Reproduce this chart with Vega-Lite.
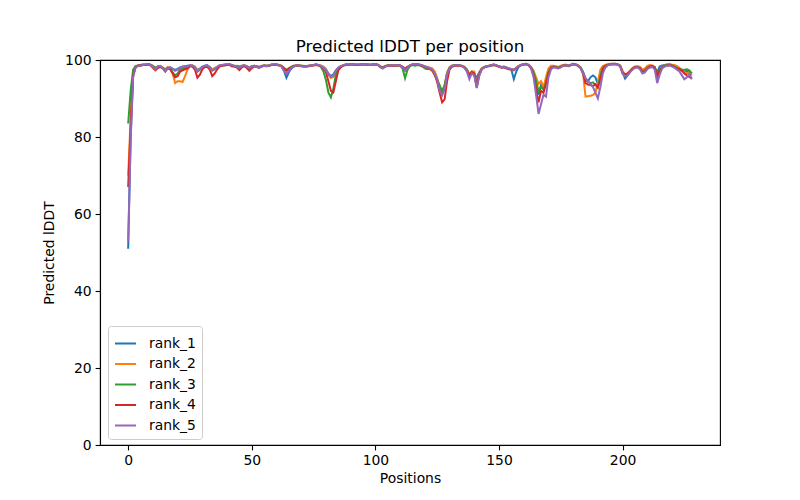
{
"$schema": "https://vega.github.io/schema/vega-lite/v6.json",
"width": 620, "height": 385,
"autosize": {"type": "none"},
"padding": {"left": 100, "top": 60, "right": 80, "bottom": 55},
"background": "white",
"title": {"text": "Predicted lDDT per position", "fontSize": 16.7, "font": "DejaVu Sans", "fontWeight": "normal", "color": "black", "offset": -3, "anchor": "middle"},
"config": {
  "view": {"stroke": "black", "strokeWidth": 1.1},
  "axis": {"grid": false, "domainColor": "black", "domainWidth": 1.1, "tickColor": "black", "tickWidth": 1.1, "tickSize": 4.9, "labelFont": "DejaVu Sans", "labelFontSize": 13.9, "labelColor": "black", "labelPadding": 4, "titleFont": "DejaVu Sans", "titleFontSize": 13.9, "titleFontWeight": "normal", "titleColor": "black"},
  "legend": {"labelFont": "DejaVu Sans", "labelFontSize": 13.9, "labelColor": "black"}
},
"data": {"values": [
{"pos":0,"rank_1":51,"rank_2":70,"rank_3":83.5,"rank_4":67,"rank_5":53},
{"pos":1,"rank_1":80,"rank_2":85,"rank_3":92,"rank_4":83,"rank_5":79},
{"pos":2,"rank_1":96,"rank_2":96.5,"rank_3":97.5,"rank_4":96,"rank_5":95.5},
{"pos":3,"rank_1":98.2,"rank_2":98.3,"rank_3":98.4,"rank_4":98.2,"rank_5":98.1},
{"pos":4,"rank_1":98.5,"rank_2":98.6,"rank_3":98.6,"rank_4":98.5,"rank_5":98.4},
{"pos":5,"rank_1":98.6,"rank_2":98.7,"rank_3":98.7,"rank_4":98.6,"rank_5":98.6},
{"pos":6,"rank_1":98.7,"rank_2":98.8,"rank_3":98.8,"rank_4":98.7,"rank_5":98.7},
{"pos":7,"rank_1":98.8,"rank_2":98.8,"rank_3":98.8,"rank_4":98.7,"rank_5":98.8},
{"pos":8,"rank_1":98.9,"rank_2":98.9,"rank_3":98.9,"rank_4":98.8,"rank_5":98.9},
{"pos":9,"rank_1":98.8,"rank_2":98.8,"rank_3":98.8,"rank_4":98.6,"rank_5":98.7},
{"pos":10,"rank_1":98.4,"rank_2":98.5,"rank_3":98.4,"rank_4":98.0,"rank_5":98.2},
{"pos":11,"rank_1":97.8,"rank_2":98.0,"rank_3":97.9,"rank_4":97.3,"rank_5":97.6},
{"pos":12,"rank_1":98.2,"rank_2":98.4,"rank_3":98.3,"rank_4":97.9,"rank_5":98.3},
{"pos":13,"rank_1":98.4,"rank_2":98.4,"rank_3":98.3,"rank_4":98.2,"rank_5":98.5},
{"pos":14,"rank_1":98.0,"rank_2":98.1,"rank_3":97.9,"rank_4":97.8,"rank_5":97.8},
{"pos":15,"rank_1":97.5,"rank_2":97.6,"rank_3":97.4,"rank_4":97.0,"rank_5":97.2},
{"pos":16,"rank_1":98.0,"rank_2":98.2,"rank_3":97.9,"rank_4":97.8,"rank_5":97.8},
{"pos":17,"rank_1":98.1,"rank_2":97.8,"rank_3":97.8,"rank_4":97.6,"rank_5":98.1},
{"pos":18,"rank_1":97.7,"rank_2":96.5,"rank_3":96.8,"rank_4":96.5,"rank_5":97.7},
{"pos":19,"rank_1":97.4,"rank_2":94.0,"rank_3":96.0,"rank_4":95.5,"rank_5":97.2},
{"pos":20,"rank_1":97.7,"rank_2":94.5,"rank_3":96.5,"rank_4":95.8,"rank_5":97.5},
{"pos":21,"rank_1":98.1,"rank_2":94.5,"rank_3":97.5,"rank_4":97.0,"rank_5":98.0},
{"pos":22,"rank_1":98.3,"rank_2":94.3,"rank_3":97.8,"rank_4":97.3,"rank_5":98.2},
{"pos":23,"rank_1":98.4,"rank_2":95.8,"rank_3":98.0,"rank_4":97.6,"rank_5":98.3},
{"pos":24,"rank_1":98.5,"rank_2":97.5,"rank_3":98.2,"rank_4":97.8,"rank_5":98.4},
{"pos":25,"rank_1":98.6,"rank_2":98.5,"rank_3":98.5,"rank_4":98.4,"rank_5":98.6},
{"pos":26,"rank_1":98.5,"rank_2":98.6,"rank_3":98.5,"rank_4":98.3,"rank_5":98.5},
{"pos":27,"rank_1":98.1,"rank_2":98.3,"rank_3":98.0,"rank_4":97.5,"rank_5":98.0},
{"pos":28,"rank_1":97.3,"rank_2":97.5,"rank_3":97.0,"rank_4":95.4,"rank_5":97.0},
{"pos":29,"rank_1":97.8,"rank_2":97.6,"rank_3":97.5,"rank_4":96.2,"rank_5":97.5},
{"pos":30,"rank_1":98.3,"rank_2":98.1,"rank_3":98.1,"rank_4":97.6,"rank_5":98.2},
{"pos":31,"rank_1":98.5,"rank_2":98.4,"rank_3":98.4,"rank_4":98.2,"rank_5":98.5},
{"pos":32,"rank_1":98.6,"rank_2":98.5,"rank_3":98.5,"rank_4":98.2,"rank_5":98.6},
{"pos":33,"rank_1":98.2,"rank_2":98.1,"rank_3":98.0,"rank_4":97.5,"rank_5":98.0},
{"pos":34,"rank_1":97.5,"rank_2":97.6,"rank_3":97.3,"rank_4":95.8,"rank_5":97.2},
{"pos":35,"rank_1":97.8,"rank_2":97.9,"rank_3":97.6,"rank_4":96.5,"rank_5":97.6},
{"pos":36,"rank_1":98.2,"rank_2":98.2,"rank_3":98.1,"rank_4":97.6,"rank_5":98.2},
{"pos":37,"rank_1":98.6,"rank_2":98.6,"rank_3":98.5,"rank_4":98.3,"rank_5":98.6},
{"pos":38,"rank_1":98.7,"rank_2":98.7,"rank_3":98.6,"rank_4":98.5,"rank_5":98.7},
{"pos":39,"rank_1":98.8,"rank_2":98.7,"rank_3":98.7,"rank_4":98.6,"rank_5":98.8},
{"pos":40,"rank_1":98.8,"rank_2":98.8,"rank_3":98.7,"rank_4":98.7,"rank_5":98.9},
{"pos":41,"rank_1":98.9,"rank_2":98.8,"rank_3":98.8,"rank_4":98.7,"rank_5":98.9},
{"pos":42,"rank_1":98.7,"rank_2":98.6,"rank_3":98.6,"rank_4":98.3,"rank_5":98.6},
{"pos":43,"rank_1":98.4,"rank_2":98.5,"rank_3":98.4,"rank_4":98.3,"rank_5":98.5},
{"pos":44,"rank_1":98.5,"rank_2":98.4,"rank_3":98.3,"rank_4":98.0,"rank_5":98.2},
{"pos":45,"rank_1":98.3,"rank_2":98.2,"rank_3":98.1,"rank_4":97.4,"rank_5":97.9},
{"pos":46,"rank_1":98.5,"rank_2":98.5,"rank_3":98.4,"rank_4":98.1,"rank_5":98.4},
{"pos":47,"rank_1":98.6,"rank_2":98.6,"rank_3":98.5,"rank_4":98.4,"rank_5":98.6},
{"pos":48,"rank_1":98.4,"rank_2":98.3,"rank_3":98.2,"rank_4":97.9,"rank_5":98.3},
{"pos":49,"rank_1":98.1,"rank_2":98.0,"rank_3":97.9,"rank_4":97.2,"rank_5":97.9},
{"pos":50,"rank_1":98.4,"rank_2":98.3,"rank_3":98.3,"rank_4":97.9,"rank_5":98.3},
{"pos":51,"rank_1":98.5,"rank_2":98.5,"rank_3":98.5,"rank_4":98.3,"rank_5":98.4},
{"pos":52,"rank_1":98.4,"rank_2":98.4,"rank_3":98.3,"rank_4":98.2,"rank_5":98.2},
{"pos":53,"rank_1":98.2,"rank_2":98.2,"rank_3":98.1,"rank_4":98.0,"rank_5":98.0},
{"pos":54,"rank_1":98.4,"rank_2":98.5,"rank_3":98.4,"rank_4":98.3,"rank_5":98.3},
{"pos":55,"rank_1":98.6,"rank_2":98.6,"rank_3":98.5,"rank_4":98.5,"rank_5":98.5},
{"pos":56,"rank_1":98.5,"rank_2":98.5,"rank_3":98.5,"rank_4":98.4,"rank_5":98.4},
{"pos":57,"rank_1":98.6,"rank_2":98.6,"rank_3":98.6,"rank_4":98.5,"rank_5":98.6},
{"pos":58,"rank_1":98.8,"rank_2":98.8,"rank_3":98.7,"rank_4":98.7,"rank_5":98.8},
{"pos":59,"rank_1":98.8,"rank_2":98.8,"rank_3":98.8,"rank_4":98.7,"rank_5":98.8},
{"pos":60,"rank_1":98.8,"rank_2":98.8,"rank_3":98.8,"rank_4":98.7,"rank_5":98.8},
{"pos":61,"rank_1":98.7,"rank_2":98.7,"rank_3":98.7,"rank_4":98.6,"rank_5":98.6},
{"pos":62,"rank_1":98.4,"rank_2":98.5,"rank_3":98.5,"rank_4":98.4,"rank_5":98.3},
{"pos":63,"rank_1":97.3,"rank_2":98.0,"rank_3":97.9,"rank_4":97.8,"rank_5":97.2},
{"pos":64,"rank_1":95.4,"rank_2":97.4,"rank_3":97.4,"rank_4":97.2,"rank_5":96.4},
{"pos":65,"rank_1":96.8,"rank_2":97.8,"rank_3":97.8,"rank_4":97.7,"rank_5":97.2},
{"pos":66,"rank_1":97.8,"rank_2":98.2,"rank_3":98.2,"rank_4":98.1,"rank_5":97.9},
{"pos":67,"rank_1":98.3,"rank_2":98.5,"rank_3":98.5,"rank_4":98.4,"rank_5":98.3},
{"pos":68,"rank_1":98.6,"rank_2":98.6,"rank_3":98.6,"rank_4":98.5,"rank_5":98.6},
{"pos":69,"rank_1":98.6,"rank_2":98.6,"rank_3":98.6,"rank_4":98.5,"rank_5":98.6},
{"pos":70,"rank_1":98.5,"rank_2":98.5,"rank_3":98.5,"rank_4":98.4,"rank_5":98.4},
{"pos":71,"rank_1":98.4,"rank_2":98.5,"rank_3":98.4,"rank_4":98.3,"rank_5":98.3},
{"pos":72,"rank_1":98.4,"rank_2":98.4,"rank_3":98.4,"rank_4":98.3,"rank_5":98.3},
{"pos":73,"rank_1":98.5,"rank_2":98.5,"rank_3":98.5,"rank_4":98.4,"rank_5":98.4},
{"pos":74,"rank_1":98.6,"rank_2":98.6,"rank_3":98.6,"rank_4":98.5,"rank_5":98.6},
{"pos":75,"rank_1":98.7,"rank_2":98.7,"rank_3":98.7,"rank_4":98.6,"rank_5":98.7},
{"pos":76,"rank_1":98.8,"rank_2":98.8,"rank_3":98.8,"rank_4":98.7,"rank_5":98.8},
{"pos":77,"rank_1":98.7,"rank_2":98.7,"rank_3":98.6,"rank_4":98.6,"rank_5":98.7},
{"pos":78,"rank_1":98.5,"rank_2":98.5,"rank_3":98.2,"rank_4":98.3,"rank_5":98.4},
{"pos":79,"rank_1":98.2,"rank_2":98.2,"rank_3":97.0,"rank_4":97.8,"rank_5":98.0},
{"pos":80,"rank_1":97.6,"rank_2":97.5,"rank_3":94.8,"rank_4":96.8,"rank_5":97.3},
{"pos":81,"rank_1":96.5,"rank_2":96.2,"rank_3":91.5,"rank_4":94.5,"rank_5":96.3},
{"pos":82,"rank_1":95.8,"rank_2":95.3,"rank_3":90.3,"rank_4":92.0,"rank_5":95.6},
{"pos":83,"rank_1":96.3,"rank_2":95.6,"rank_3":92.5,"rank_4":91.6,"rank_5":96.0},
{"pos":84,"rank_1":97.3,"rank_2":96.8,"rank_3":96.2,"rank_4":94.5,"rank_5":97.2},
{"pos":85,"rank_1":98.0,"rank_2":97.9,"rank_3":97.8,"rank_4":97.3,"rank_5":98.0},
{"pos":86,"rank_1":98.4,"rank_2":98.4,"rank_3":98.3,"rank_4":98.1,"rank_5":98.4},
{"pos":87,"rank_1":98.6,"rank_2":98.6,"rank_3":98.6,"rank_4":98.5,"rank_5":98.6},
{"pos":88,"rank_1":98.8,"rank_2":98.8,"rank_3":98.8,"rank_4":98.7,"rank_5":98.8},
{"pos":89,"rank_1":98.8,"rank_2":98.8,"rank_3":98.8,"rank_4":98.7,"rank_5":98.8},
{"pos":90,"rank_1":98.9,"rank_2":98.9,"rank_3":98.8,"rank_4":98.8,"rank_5":98.9},
{"pos":91,"rank_1":98.9,"rank_2":98.9,"rank_3":98.9,"rank_4":98.8,"rank_5":98.9},
{"pos":92,"rank_1":98.8,"rank_2":98.8,"rank_3":98.8,"rank_4":98.7,"rank_5":98.8},
{"pos":93,"rank_1":98.8,"rank_2":98.8,"rank_3":98.7,"rank_4":98.7,"rank_5":98.8},
{"pos":94,"rank_1":98.9,"rank_2":98.9,"rank_3":98.8,"rank_4":98.8,"rank_5":98.9},
{"pos":95,"rank_1":98.9,"rank_2":98.9,"rank_3":98.9,"rank_4":98.8,"rank_5":98.9},
{"pos":96,"rank_1":98.9,"rank_2":98.9,"rank_3":98.8,"rank_4":98.8,"rank_5":98.9},
{"pos":97,"rank_1":98.8,"rank_2":98.8,"rank_3":98.8,"rank_4":98.7,"rank_5":98.8},
{"pos":98,"rank_1":98.8,"rank_2":98.8,"rank_3":98.7,"rank_4":98.7,"rank_5":98.7},
{"pos":99,"rank_1":98.9,"rank_2":98.9,"rank_3":98.8,"rank_4":98.8,"rank_5":98.9},
{"pos":100,"rank_1":98.9,"rank_2":98.9,"rank_3":98.9,"rank_4":98.8,"rank_5":98.9},
{"pos":101,"rank_1":98.8,"rank_2":98.8,"rank_3":98.7,"rank_4":98.7,"rank_5":98.7},
{"pos":102,"rank_1":98.3,"rank_2":98.4,"rank_3":98.3,"rank_4":98.2,"rank_5":98.1},
{"pos":103,"rank_1":98.0,"rank_2":98.1,"rank_3":98.0,"rank_4":97.9,"rank_5":97.8},
{"pos":104,"rank_1":98.4,"rank_2":98.5,"rank_3":98.4,"rank_4":98.3,"rank_5":98.3},
{"pos":105,"rank_1":98.6,"rank_2":98.6,"rank_3":98.6,"rank_4":98.5,"rank_5":98.5},
{"pos":106,"rank_1":98.7,"rank_2":98.7,"rank_3":98.7,"rank_4":98.6,"rank_5":98.7},
{"pos":107,"rank_1":98.6,"rank_2":98.6,"rank_3":98.6,"rank_4":98.5,"rank_5":98.6},
{"pos":108,"rank_1":98.6,"rank_2":98.6,"rank_3":98.5,"rank_4":98.5,"rank_5":98.6},
{"pos":109,"rank_1":98.7,"rank_2":98.7,"rank_3":98.7,"rank_4":98.6,"rank_5":98.7},
{"pos":110,"rank_1":98.6,"rank_2":98.6,"rank_3":98.5,"rank_4":98.6,"rank_5":98.6},
{"pos":111,"rank_1":98.2,"rank_2":98.3,"rank_3":97.8,"rank_4":98.2,"rank_5":98.1},
{"pos":112,"rank_1":97.2,"rank_2":97.8,"rank_3":95.3,"rank_4":97.7,"rank_5":97.3},
{"pos":113,"rank_1":98.0,"rank_2":98.2,"rank_3":97.5,"rank_4":98.2,"rank_5":98.0},
{"pos":114,"rank_1":98.6,"rank_2":98.6,"rank_3":98.4,"rank_4":98.6,"rank_5":98.6},
{"pos":115,"rank_1":98.8,"rank_2":98.8,"rank_3":98.7,"rank_4":98.8,"rank_5":98.8},
{"pos":116,"rank_1":98.8,"rank_2":98.8,"rank_3":98.5,"rank_4":98.8,"rank_5":98.8},
{"pos":117,"rank_1":98.9,"rank_2":98.9,"rank_3":98.7,"rank_4":98.8,"rank_5":98.9},
{"pos":118,"rank_1":98.8,"rank_2":98.8,"rank_3":98.6,"rank_4":98.7,"rank_5":98.8},
{"pos":119,"rank_1":98.6,"rank_2":98.6,"rank_3":98.3,"rank_4":98.5,"rank_5":98.6},
{"pos":120,"rank_1":98.3,"rank_2":98.4,"rank_3":97.8,"rank_4":98.2,"rank_5":98.3},
{"pos":121,"rank_1":98.1,"rank_2":98.2,"rank_3":97.6,"rank_4":98.0,"rank_5":98.1},
{"pos":122,"rank_1":97.9,"rank_2":98.0,"rank_3":97.7,"rank_4":97.7,"rank_5":97.9},
{"pos":123,"rank_1":97.6,"rank_2":97.8,"rank_3":97.3,"rank_4":97.2,"rank_5":97.5},
{"pos":124,"rank_1":96.8,"rank_2":97.0,"rank_3":96.0,"rank_4":96.3,"rank_5":96.5},
{"pos":125,"rank_1":95.0,"rank_2":95.3,"rank_3":94.8,"rank_4":94.2,"rank_5":94.8},
{"pos":126,"rank_1":92.5,"rank_2":92.8,"rank_3":93.5,"rank_4":91.5,"rank_5":92.0},
{"pos":127,"rank_1":91.5,"rank_2":91.8,"rank_3":91.8,"rank_4":89.0,"rank_5":90.8},
{"pos":128,"rank_1":93.0,"rank_2":93.5,"rank_3":93.5,"rank_4":89.8,"rank_5":92.3},
{"pos":129,"rank_1":96.5,"rank_2":96.8,"rank_3":96.5,"rank_4":94.5,"rank_5":96.2},
{"pos":130,"rank_1":98.0,"rank_2":98.1,"rank_3":98.0,"rank_4":97.5,"rank_5":97.9},
{"pos":131,"rank_1":98.5,"rank_2":98.5,"rank_3":98.5,"rank_4":98.2,"rank_5":98.4},
{"pos":132,"rank_1":98.6,"rank_2":98.7,"rank_3":98.6,"rank_4":98.5,"rank_5":98.6},
{"pos":133,"rank_1":98.7,"rank_2":98.7,"rank_3":98.7,"rank_4":98.6,"rank_5":98.7},
{"pos":134,"rank_1":98.6,"rank_2":98.6,"rank_3":98.6,"rank_4":98.5,"rank_5":98.6},
{"pos":135,"rank_1":98.5,"rank_2":98.5,"rank_3":98.4,"rank_4":98.4,"rank_5":98.4},
{"pos":136,"rank_1":98.2,"rank_2":98.2,"rank_3":98.1,"rank_4":98.0,"rank_5":98.0},
{"pos":137,"rank_1":97.6,"rank_2":97.6,"rank_3":97.4,"rank_4":97.2,"rank_5":97.0},
{"pos":138,"rank_1":96.3,"rank_2":96.2,"rank_3":96.0,"rank_4":96.0,"rank_5":95.0},
{"pos":139,"rank_1":97.0,"rank_2":97.0,"rank_3":96.8,"rank_4":96.8,"rank_5":96.5},
{"pos":140,"rank_1":96.5,"rank_2":97.0,"rank_3":96.2,"rank_4":96.5,"rank_5":96.0},
{"pos":141,"rank_1":95.3,"rank_2":93.5,"rank_3":92.8,"rank_4":93.3,"rank_5":92.7},
{"pos":142,"rank_1":96.8,"rank_2":96.5,"rank_3":96.2,"rank_4":96.2,"rank_5":95.8},
{"pos":143,"rank_1":97.8,"rank_2":97.8,"rank_3":97.7,"rank_4":97.6,"rank_5":97.6},
{"pos":144,"rank_1":98.2,"rank_2":98.2,"rank_3":98.1,"rank_4":98.0,"rank_5":98.1},
{"pos":145,"rank_1":98.4,"rank_2":98.4,"rank_3":98.3,"rank_4":98.3,"rank_5":98.4},
{"pos":146,"rank_1":98.5,"rank_2":98.5,"rank_3":98.5,"rank_4":98.4,"rank_5":98.5},
{"pos":147,"rank_1":98.7,"rank_2":98.7,"rank_3":98.6,"rank_4":98.6,"rank_5":98.7},
{"pos":148,"rank_1":98.8,"rank_2":98.8,"rank_3":98.7,"rank_4":98.7,"rank_5":98.8},
{"pos":149,"rank_1":98.6,"rank_2":98.6,"rank_3":98.6,"rank_4":98.5,"rank_5":98.6},
{"pos":150,"rank_1":98.4,"rank_2":98.3,"rank_3":98.3,"rank_4":98.2,"rank_5":98.3},
{"pos":151,"rank_1":98.2,"rank_2":98.2,"rank_3":98.1,"rank_4":98.0,"rank_5":98.1},
{"pos":152,"rank_1":98.3,"rank_2":98.2,"rank_3":98.2,"rank_4":98.1,"rank_5":98.2},
{"pos":153,"rank_1":98.1,"rank_2":98.0,"rank_3":98.0,"rank_4":97.8,"rank_5":98.0},
{"pos":154,"rank_1":97.8,"rank_2":97.8,"rank_3":97.7,"rank_4":97.6,"rank_5":97.8},
{"pos":155,"rank_1":97.5,"rank_2":97.7,"rank_3":97.6,"rank_4":97.5,"rank_5":97.7},
{"pos":156,"rank_1":95.0,"rank_2":97.5,"rank_3":97.3,"rank_4":97.4,"rank_5":97.4},
{"pos":157,"rank_1":97.0,"rank_2":98.0,"rank_3":97.8,"rank_4":97.9,"rank_5":97.9},
{"pos":158,"rank_1":98.3,"rank_2":98.5,"rank_3":98.3,"rank_4":98.4,"rank_5":98.4},
{"pos":159,"rank_1":98.7,"rank_2":98.8,"rank_3":98.7,"rank_4":98.7,"rank_5":98.7},
{"pos":160,"rank_1":98.9,"rank_2":98.9,"rank_3":98.9,"rank_4":98.8,"rank_5":98.9},
{"pos":161,"rank_1":99.0,"rank_2":99.0,"rank_3":98.9,"rank_4":98.9,"rank_5":98.9},
{"pos":162,"rank_1":98.7,"rank_2":98.8,"rank_3":98.7,"rank_4":98.6,"rank_5":98.6},
{"pos":163,"rank_1":98.0,"rank_2":98.2,"rank_3":98.0,"rank_4":97.8,"rank_5":97.8},
{"pos":164,"rank_1":96.8,"rank_2":97.2,"rank_3":96.8,"rank_4":96.0,"rank_5":95.5},
{"pos":165,"rank_1":94.0,"rank_2":95.5,"rank_3":94.5,"rank_4":92.5,"rank_5":91.0},
{"pos":166,"rank_1":91.0,"rank_2":93.8,"rank_3":92.0,"rank_4":89.0,"rank_5":86.0},
{"pos":167,"rank_1":93.5,"rank_2":94.5,"rank_3":93.0,"rank_4":92.0,"rank_5":88.5},
{"pos":168,"rank_1":92.5,"rank_2":93.0,"rank_3":92.3,"rank_4":91.5,"rank_5":91.0},
{"pos":169,"rank_1":94.5,"rank_2":95.5,"rank_3":94.0,"rank_4":93.8,"rank_5":90.5},
{"pos":170,"rank_1":97.0,"rank_2":97.8,"rank_3":96.8,"rank_4":96.5,"rank_5":95.5},
{"pos":171,"rank_1":98.0,"rank_2":98.5,"rank_3":98.0,"rank_4":97.8,"rank_5":97.5},
{"pos":172,"rank_1":98.3,"rank_2":98.5,"rank_3":98.3,"rank_4":98.2,"rank_5":98.1},
{"pos":173,"rank_1":98.2,"rank_2":98.4,"rank_3":98.2,"rank_4":98.1,"rank_5":98.0},
{"pos":174,"rank_1":98.0,"rank_2":98.2,"rank_3":98.0,"rank_4":97.9,"rank_5":97.8},
{"pos":175,"rank_1":98.3,"rank_2":98.5,"rank_3":98.3,"rank_4":98.2,"rank_5":98.1},
{"pos":176,"rank_1":98.6,"rank_2":98.7,"rank_3":98.6,"rank_4":98.5,"rank_5":98.5},
{"pos":177,"rank_1":98.7,"rank_2":98.8,"rank_3":98.7,"rank_4":98.6,"rank_5":98.6},
{"pos":178,"rank_1":98.5,"rank_2":98.6,"rank_3":98.5,"rank_4":98.4,"rank_5":98.4},
{"pos":179,"rank_1":98.7,"rank_2":98.8,"rank_3":98.7,"rank_4":98.6,"rank_5":98.7},
{"pos":180,"rank_1":99.0,"rank_2":99.0,"rank_3":98.9,"rank_4":98.9,"rank_5":98.9},
{"pos":181,"rank_1":98.9,"rank_2":98.9,"rank_3":98.8,"rank_4":98.8,"rank_5":98.8},
{"pos":182,"rank_1":98.6,"rank_2":98.6,"rank_3":98.5,"rank_4":98.5,"rank_5":98.5},
{"pos":183,"rank_1":98.1,"rank_2":98.0,"rank_3":98.0,"rank_4":97.9,"rank_5":97.9},
{"pos":184,"rank_1":97.0,"rank_2":96.5,"rank_3":96.8,"rank_4":96.5,"rank_5":96.6},
{"pos":185,"rank_1":95.0,"rank_2":90.5,"rank_3":95.0,"rank_4":94.0,"rank_5":95.3},
{"pos":186,"rank_1":94.5,"rank_2":90.6,"rank_3":94.3,"rank_4":93.6,"rank_5":94.5},
{"pos":187,"rank_1":95.5,"rank_2":90.7,"rank_3":94.0,"rank_4":93.5,"rank_5":93.8},
{"pos":188,"rank_1":96.0,"rank_2":90.9,"rank_3":94.2,"rank_4":93.2,"rank_5":93.0},
{"pos":189,"rank_1":95.5,"rank_2":91.5,"rank_3":93.5,"rank_4":93.7,"rank_5":91.5},
{"pos":190,"rank_1":93.8,"rank_2":94.3,"rank_3":93.0,"rank_4":92.8,"rank_5":90.0},
{"pos":191,"rank_1":95.5,"rank_2":97.5,"rank_3":96.0,"rank_4":95.0,"rank_5":93.0},
{"pos":192,"rank_1":97.8,"rank_2":98.4,"rank_3":98.0,"rank_4":97.6,"rank_5":96.5},
{"pos":193,"rank_1":98.5,"rank_2":98.7,"rank_3":98.5,"rank_4":98.4,"rank_5":98.0},
{"pos":194,"rank_1":98.8,"rank_2":98.9,"rank_3":98.8,"rank_4":98.7,"rank_5":98.6},
{"pos":195,"rank_1":98.9,"rank_2":99.0,"rank_3":98.9,"rank_4":98.8,"rank_5":98.8},
{"pos":196,"rank_1":99.0,"rank_2":99.0,"rank_3":98.9,"rank_4":98.9,"rank_5":98.9},
{"pos":197,"rank_1":99.0,"rank_2":99.0,"rank_3":98.9,"rank_4":98.9,"rank_5":98.9},
{"pos":198,"rank_1":98.9,"rank_2":98.9,"rank_3":98.8,"rank_4":98.8,"rank_5":98.8},
{"pos":199,"rank_1":98.5,"rank_2":98.6,"rank_3":98.5,"rank_4":98.4,"rank_5":98.4},
{"pos":200,"rank_1":96.8,"rank_2":97.2,"rank_3":96.5,"rank_4":96.8,"rank_5":96.5},
{"pos":201,"rank_1":95.2,"rank_2":96.0,"rank_3":95.8,"rank_4":96.3,"rank_5":95.8},
{"pos":202,"rank_1":96.0,"rank_2":96.5,"rank_3":96.2,"rank_4":96.5,"rank_5":96.0},
{"pos":203,"rank_1":97.0,"rank_2":97.3,"rank_3":97.0,"rank_4":97.0,"rank_5":96.8},
{"pos":204,"rank_1":97.8,"rank_2":97.9,"rank_3":97.7,"rank_4":97.7,"rank_5":97.5},
{"pos":205,"rank_1":98.2,"rank_2":98.3,"rank_3":98.1,"rank_4":98.1,"rank_5":98.0},
{"pos":206,"rank_1":98.3,"rank_2":98.4,"rank_3":98.2,"rank_4":98.2,"rank_5":98.1},
{"pos":207,"rank_1":98.0,"rank_2":98.2,"rank_3":98.0,"rank_4":97.8,"rank_5":97.6},
{"pos":208,"rank_1":97.2,"rank_2":97.5,"rank_3":97.2,"rank_4":96.9,"rank_5":96.5},
{"pos":209,"rank_1":97.3,"rank_2":97.8,"rank_3":97.3,"rank_4":97.0,"rank_5":96.8},
{"pos":210,"rank_1":98.0,"rank_2":98.5,"rank_3":98.0,"rank_4":97.8,"rank_5":97.6},
{"pos":211,"rank_1":98.3,"rank_2":98.7,"rank_3":98.3,"rank_4":98.3,"rank_5":98.0},
{"pos":212,"rank_1":98.4,"rank_2":98.6,"rank_3":98.4,"rank_4":98.5,"rank_5":98.2},
{"pos":213,"rank_1":98.1,"rank_2":98.2,"rank_3":98.0,"rank_4":98.0,"rank_5":97.5},
{"pos":214,"rank_1":96.8,"rank_2":95.5,"rank_3":96.5,"rank_4":95.8,"rank_5":94.0},
{"pos":215,"rank_1":98.3,"rank_2":97.0,"rank_3":97.3,"rank_4":97.2,"rank_5":96.2},
{"pos":216,"rank_1":98.6,"rank_2":98.3,"rank_3":98.2,"rank_4":98.0,"rank_5":97.8},
{"pos":217,"rank_1":98.7,"rank_2":98.6,"rank_3":98.5,"rank_4":98.4,"rank_5":98.3},
{"pos":218,"rank_1":98.8,"rank_2":98.8,"rank_3":98.7,"rank_4":98.6,"rank_5":98.5},
{"pos":219,"rank_1":98.8,"rank_2":98.9,"rank_3":98.8,"rank_4":98.7,"rank_5":98.6},
{"pos":220,"rank_1":98.7,"rank_2":98.8,"rank_3":98.6,"rank_4":98.5,"rank_5":98.3},
{"pos":221,"rank_1":98.5,"rank_2":98.7,"rank_3":98.3,"rank_4":98.1,"rank_5":98.0},
{"pos":222,"rank_1":98.2,"rank_2":98.4,"rank_3":98.0,"rank_4":97.8,"rank_5":97.5},
{"pos":223,"rank_1":97.6,"rank_2":98.0,"rank_3":97.7,"rank_4":97.6,"rank_5":97.0},
{"pos":224,"rank_1":97.2,"rank_2":97.4,"rank_3":97.5,"rank_4":97.2,"rank_5":96.0},
{"pos":225,"rank_1":97.0,"rank_2":96.8,"rank_3":97.5,"rank_4":96.5,"rank_5":95.0},
{"pos":226,"rank_1":97.2,"rank_2":96.6,"rank_3":97.6,"rank_4":96.0,"rank_5":95.5},
{"pos":227,"rank_1":96.8,"rank_2":96.8,"rank_3":97.3,"rank_4":95.6,"rank_5":96.5},
{"pos":228,"rank_1":96.5,"rank_2":96.0,"rank_3":96.5,"rank_4":95.2,"rank_5":95.0}
]},
"transform": [{"fold": ["rank_1", "rank_2", "rank_3", "rank_4", "rank_5"], "as": ["rank", "plddt"]}],
"mark": {"type": "line", "strokeWidth": 2, "clip": true},
"encoding": {
  "x": {"field": "pos", "type": "quantitative", "title": "Positions", "scale": {"domain": [-11.4, 239.4], "nice": false, "zero": false}, "axis": {"values": [0, 50, 100, 150, 200], "titlePadding": 4}},
  "y": {"field": "plddt", "type": "quantitative", "title": "Predicted lDDT", "scale": {"domain": [0, 100], "nice": false}, "axis": {"values": [0, 20, 40, 60, 80, 100], "titlePadding": 8}},
  "color": {"field": "rank", "type": "nominal", "scale": {"domain": ["rank_1", "rank_2", "rank_3", "rank_4", "rank_5"], "range": ["#1f77b4", "#ff7f0e", "#2ca02c", "#d62728", "#9467bd"]},
    "legend": {"title": null, "orient": "none", "legendX": 8, "legendY": 266, "symbolType": "stroke", "symbolStrokeWidth": 2, "symbolSize": 441, "labelOffset": 12, "rowPadding": 1.5, "padding": 6, "strokeColor": "#cccccc", "fillColor": "white", "cornerRadius": 3}}
}
}
